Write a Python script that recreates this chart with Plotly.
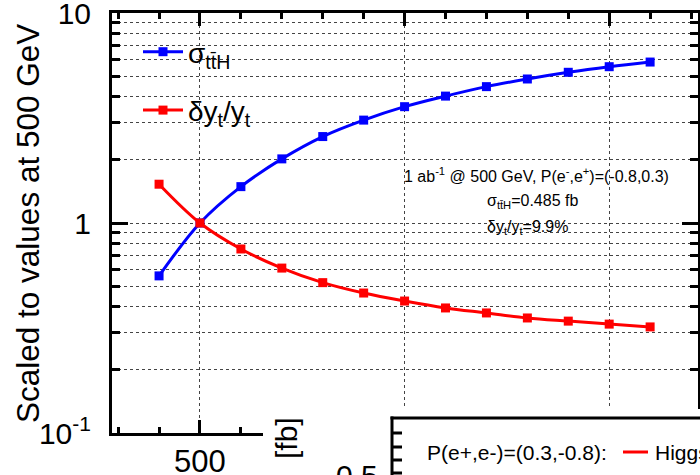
import plotly.graph_objects as go

# ---- data ----
energy_gev = [400, 500, 600, 700, 800, 900, 1000, 1100, 1200, 1300, 1400, 1500, 1600]
sigma_tth_scaled = [0.56, 1.00, 1.49, 2.02, 2.58, 3.09, 3.58, 4.02, 4.46, 4.85, 5.22, 5.55, 5.84]
dyt_over_yt_scaled = [1.53, 1.00, 0.752, 0.61, 0.52, 0.464, 0.425, 0.394, 0.373, 0.353, 0.341, 0.330, 0.320]

x_major_ticks = [500, 1000, 1500]
x_major_labels = ["500", "", ""]  # 1000 and 1500 are hidden by the overlapping panel
x_minor_ticks = [300, 400, 600, 700, 800, 900, 1100, 1200, 1300, 1400, 1600, 1700]
y_major_ticks = [0.1, 1, 10]
y_major_labels = ["10<sup>-1</sup>", "1", "10"]
y_minor_ticks = [0.2, 0.3, 0.4, 0.5, 0.6, 0.7, 0.8, 0.9, 2, 3, 4, 5, 6, 7, 8, 9]
y_title = "Scaled to values at 500 GeV"

FONT = "Liberation Sans, Arial, Helvetica, sans-serif"
W, H = 700, 475
L, R, T, B = 112, 2, 13, 42
PW, PH = W - L - R, H - T - B


def px(xp):
    return (xp - L) / PW


def py(yp):
    return (H - B - yp) / PH


fig = go.Figure()
fig.add_trace(go.Scatter(
    x=energy_gev, y=sigma_tth_scaled, mode="lines+markers",
    name="σ<sub>tt̄H</sub>",
    line=dict(color="#0000ff", width=3, shape="spline"),
    marker=dict(symbol="square", size=9, color="#0000ff"),
    legendgroup="a",
))
fig.add_trace(go.Scatter(
    x=energy_gev, y=dyt_over_yt_scaled, mode="lines+markers",
    name="δy<sub>t</sub>/y<sub>t</sub>",
    line=dict(color="#ff0000", width=3, shape="spline"),
    marker=dict(symbol="square", size=9, color="#ff0000"),
    legendgroup="b",
))

grid_col = "#444444"
fig.update_xaxes(
    range=[285, 1717], showline=True, linecolor="black", linewidth=3, mirror="allticks",
    tickvals=x_major_ticks, ticktext=x_major_labels, ticks="inside", ticklen=13, tickwidth=3,
    tickcolor="black", tickfont=dict(family=FONT, size=31, color="black"), ticklabelstandoff=-1,
    showgrid=True, gridcolor=grid_col, griddash="dot", gridwidth=1, zeroline=False,
    minor=dict(tickvals=x_minor_ticks, ticks="inside", ticklen=6, tickwidth=3,
               tickcolor="black", showgrid=False),
)
fig.update_yaxes(
    type="log", range=[-1, 1], showline=True, linecolor="black", linewidth=3, mirror="allticks",
    tickvals=y_major_ticks, ticktext=y_major_labels, ticks="inside", ticklen=16, tickwidth=3,
    tickcolor="black", tickfont=dict(family=FONT, size=30, color="black"), ticklabelstandoff=12,
    ticklabeloverflow="allow",
    showgrid=True, gridcolor=grid_col, griddash="dot", gridwidth=1, zeroline=False,
    minor=dict(tickvals=y_minor_ticks, ticks="inside", ticklen=8, tickwidth=3,
               tickcolor="black", showgrid=True, gridcolor=grid_col, griddash="dot", gridwidth=1),
)

annotations = [
    dict(x=px(28), y=py(224), text=y_title, textangle=-90, font=dict(size=31.5)),
    dict(x=px(536), y=py(175), text="1 ab<sup>-1</sup> @ 500 GeV, P(e<sup>-</sup>,e<sup>+</sup>)=(-0.8,0.3)",
         font=dict(size=16)),
    dict(x=px(532), y=py(202), text="σ<sub>tt̄H</sub>=0.485 fb", font=dict(size=16)),
    dict(x=px(527), y=py(228), text="δy<sub>t</sub>/y<sub>t</sub>=9.9%", font=dict(size=16)),
    # overlapping neighbouring panel (partly visible at the bottom)
    dict(x=px(286), y=py(438), text="[fb]", textangle=-90, font=dict(size=30)),
    dict(x=px(357), y=py(475), text="0.5", font=dict(size=30)),
    dict(x=px(425), y=py(452), text="P(e+,e-)=(0.3,-0.8):", xanchor="left", font=dict(size=21)),
    dict(x=px(653), y=py(452), text="Higgsstrahlung", xanchor="left", font=dict(size=21)),
    dict(x=px(653), y=py(481), text="WW fusion", xanchor="left", font=dict(size=21)),
]
for a in annotations:
    a.setdefault("xanchor", "center")
    a.update(xref="paper", yref="paper", showarrow=False, yanchor="middle")
    a["font"] = dict(family=FONT, color="black", **a["font"])

shapes = [
    dict(type="rect", x0=px(263), x1=px(705), y0=py(409), y1=py(490),
         fillcolor="white", line=dict(width=0), layer="above"),
    dict(type="line", x0=px(390.5), x1=px(705), y0=py(418), y1=py(418),
         line=dict(color="black", width=3), layer="above"),
    dict(type="line", x0=px(392), x1=px(392), y0=py(416.5), y1=py(490),
         line=dict(color="black", width=3), layer="above"),
    dict(type="line", x0=px(623), x1=px(648), y0=py(452), y1=py(452),
         line=dict(color="#ff0000", width=3), layer="above"),
]
for yt in [433, 447, 460, 473]:
    shapes.append(dict(type="line", x0=px(392), x1=px(402), y0=py(yt), y1=py(yt),
                       line=dict(color="black", width=3), layer="above"))
for s in shapes:
    s.update(xref="paper", yref="paper")

fig.update_layout(
    width=W, height=H, margin=dict(l=L, r=R, t=T, b=B, autoexpand=False),
    paper_bgcolor="white", plot_bgcolor="white",
    font=dict(family=FONT, color="black"),
    showlegend=True,
    legend=dict(x=px(138), y=py(27), xanchor="left", yanchor="top",
                bgcolor="rgba(0,0,0,0)", borderwidth=0, itemwidth=40,
                font=dict(family=FONT, size=28, color="black"), tracegroupgap=19),
    annotations=annotations, shapes=shapes,
)

fig.write_html("out.html")
